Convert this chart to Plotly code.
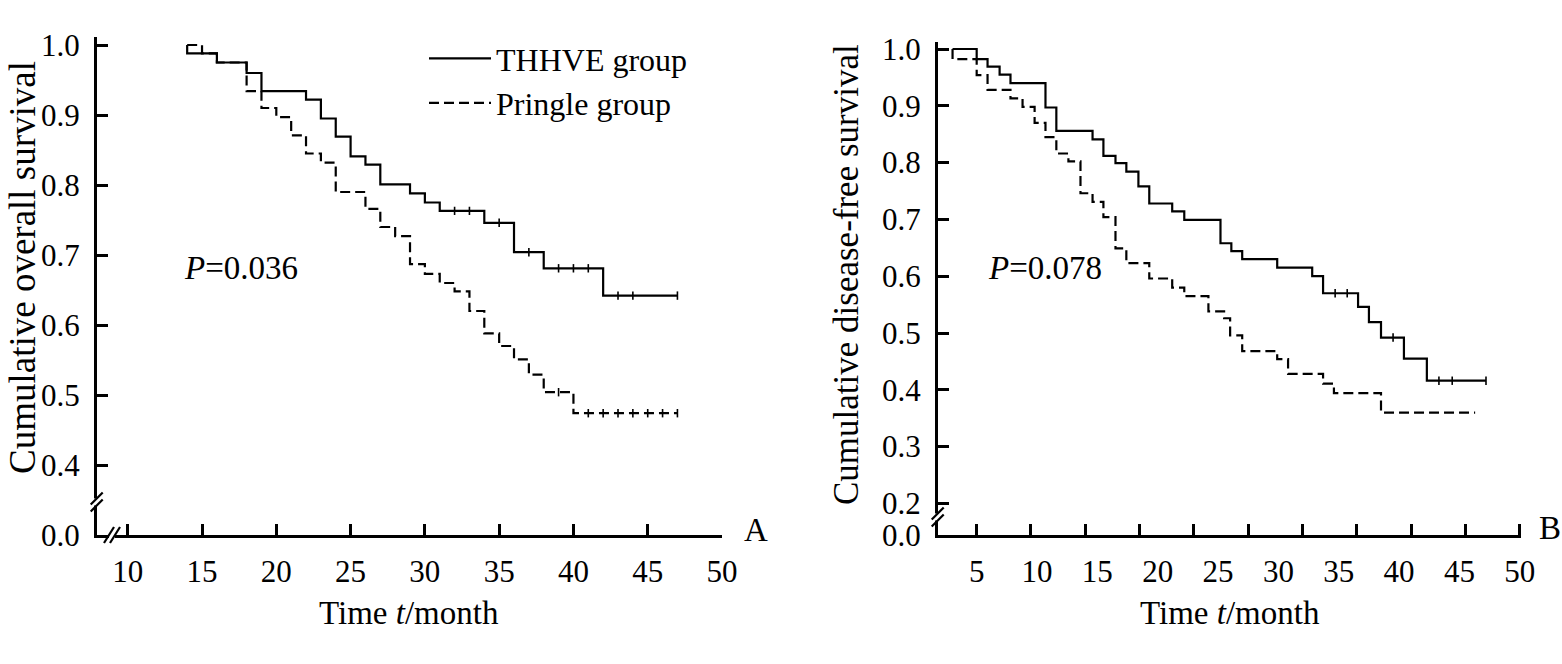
import plotly.graph_objects as go

W, H = 1562, 664
FONT = "Liberation Serif"

# ---------------- Panel A: overall survival ----------------
a_thhve_t = [14, 14, 16, 18, 19, 22, 23, 24, 25, 26, 27, 29, 30, 31, 34, 36, 38, 42, 47]
a_thhve_s = [1.0, 0.988, 0.975, 0.960, 0.934, 0.922, 0.895, 0.869, 0.841, 0.829, 0.801,
             0.788, 0.775, 0.763, 0.746, 0.704, 0.681, 0.642, 0.642]
a_thhve_cens_t = [32, 33, 35, 37, 39, 40, 41, 43, 44, 47]
a_thhve_cens_s = [0.763, 0.763, 0.746, 0.704, 0.681, 0.681, 0.681, 0.642, 0.642, 0.642]

a_pringle_t = [14, 15, 16, 18, 19, 20, 21, 22, 23, 24, 26, 27, 28, 29, 30, 31, 32, 33,
               34, 35, 36, 37, 38, 40, 47]
a_pringle_s = [1.0, 0.988, 0.975, 0.934, 0.910, 0.897, 0.871, 0.845, 0.832, 0.790, 0.766,
               0.740, 0.727, 0.687, 0.673, 0.660, 0.648, 0.620, 0.588, 0.570, 0.551, 0.529,
               0.504, 0.474, 0.474]
a_pringle_cens_t = [39, 41, 42, 43, 44, 45, 46, 47]
a_pringle_cens_s = [0.504, 0.474, 0.474, 0.474, 0.474, 0.474, 0.474, 0.474]

a_xticks = [10, 15, 20, 25, 30, 35, 40, 45, 50]
a_yticks = [0.3, 0.4, 0.5, 0.6, 0.7, 0.8, 0.9, 1.0]
a_ytext = ["0.0", "0.4", "0.5", "0.6", "0.7", "0.8", "0.9", "1.0"]

# ---------------- Panel B: disease-free survival ----------------
b_thhve_t = [3.0, 5.0, 5.9, 6.9, 7.8, 10.7, 11.6, 14.6, 15.5, 16.5, 17.4, 18.4, 19.3, 21.2,
             22.2, 25.2, 26.1, 27.0, 29.9, 32.8, 33.7, 36.6, 37.5, 38.5, 40.4, 42.3, 47.2]
b_thhve_s = [1.0, 0.982, 0.969, 0.955, 0.940, 0.897, 0.856, 0.841, 0.812, 0.799, 0.784,
             0.758, 0.728, 0.714, 0.699, 0.658, 0.644, 0.630, 0.615, 0.600, 0.570, 0.546,
             0.519, 0.492, 0.455, 0.416, 0.416]
b_thhve_cens_t = [34.7, 35.7, 39.5, 43.3, 44.4, 47.2]
b_thhve_cens_s = [0.570, 0.570, 0.492, 0.416, 0.416, 0.416]

b_pringle_t = [3.0, 3.0, 5.0, 5.9, 7.8, 8.8, 9.8, 10.7, 11.6, 12.6, 13.6, 14.6, 15.5, 16.5,
               17.4, 19.3, 21.2, 22.2, 24.2, 25.5, 26.0, 27.0, 29.9, 30.8, 33.7, 34.6, 38.5,
               46.3]
b_pringle_s = [1.0, 0.982, 0.954, 0.928, 0.913, 0.898, 0.870, 0.845, 0.816, 0.802, 0.746,
               0.731, 0.704, 0.649, 0.623, 0.596, 0.580, 0.565, 0.538, 0.526, 0.496, 0.468,
               0.454, 0.428, 0.411, 0.394, 0.360, 0.360]

b_xlabels = [5, 10, 15, 20, 25, 30, 35, 40, 45, 50]
b_xtickmarks = [5, 9.5, 14, 18.5, 23, 27.5, 32, 36.5, 41, 45.5, 50]
b_yticks = [0.1444, 0.2, 0.3, 0.4, 0.5, 0.6, 0.7, 0.8, 0.9, 1.0]
b_ytext = ["0.0", "0.2", "0.3", "0.4", "0.5", "0.6", "0.7", "0.8", "0.9", "1.0"]


def fx(px):
    return px / W


def fy(py):
    return 1 - py / H


fig = go.Figure()

solid = dict(color="black", width=2.2, shape="hv")
dashed = dict(color="black", width=2.2, shape="hv", dash="10px,5px")
cmark = dict(symbol="line-ns", size=6, line=dict(color="black", width=1.6))

fig.add_trace(go.Scatter(x=a_thhve_t, y=a_thhve_s, mode="lines", line=solid,
                         name="THHVE group", xaxis="x", yaxis="y"))
fig.add_trace(go.Scatter(x=a_pringle_t, y=a_pringle_s, mode="lines", line=dashed,
                         name="Pringle group", xaxis="x", yaxis="y"))
fig.add_trace(go.Scatter(x=a_thhve_cens_t, y=a_thhve_cens_s, mode="markers", marker=cmark,
                         showlegend=False, xaxis="x", yaxis="y"))
fig.add_trace(go.Scatter(x=a_pringle_cens_t, y=a_pringle_cens_s, mode="markers", marker=cmark,
                         showlegend=False, xaxis="x", yaxis="y"))

fig.add_trace(go.Scatter(x=b_thhve_t, y=b_thhve_s, mode="lines", line=solid,
                         showlegend=False, xaxis="x2", yaxis="y2"))
fig.add_trace(go.Scatter(x=b_pringle_t, y=b_pringle_s, mode="lines", line=dashed,
                         showlegend=False, xaxis="x2", yaxis="y2"))
fig.add_trace(go.Scatter(x=b_thhve_cens_t, y=b_thhve_cens_s, mode="markers", marker=cmark,
                         showlegend=False, xaxis="x2", yaxis="y2"))
# empty trace so that the tick-mark overlay axis is drawn
fig.add_trace(go.Scatter(x=[None], y=[None], mode="lines", showlegend=False,
                         hoverinfo="skip", xaxis="x3", yaxis="y2"))

tickfont = dict(family=FONT, size=31, color="black")
axcommon = dict(showgrid=False, zeroline=False, showline=True, linecolor="black",
                linewidth=2.6, ticks="inside", ticklen=11, tickwidth=2.6,
                tickcolor="black", tickfont=tickfont)

a_x0, a_x1 = 96.7, 722.0
a_ytop_v = 1.012
a_ybot, a_ytop = 535.0, 45.0 - (a_ytop_v - 1.0) * 700
b_x0, b_x1 = 937.7, 1521.0
b_ytop_v = 1.012
b_ybot, b_ytop = 535.0, 49.0 - (b_ytop_v - 1.0) * 568

fig.update_layout(
    width=W, height=H, margin=dict(l=0, r=0, t=0, b=0, autoexpand=False),
    paper_bgcolor="white", plot_bgcolor="white",
    font=dict(family=FONT, color="black"),
    xaxis=dict(axcommon, domain=[fx(a_x0), fx(a_x1)], range=[7.91, 50.0],
               tickvals=a_xticks, anchor="y", ticklabelstandoff=7),
    yaxis=dict(axcommon, domain=[fy(a_ybot), fy(a_ytop)], range=[0.3, a_ytop_v],
               tickvals=a_yticks, ticktext=a_ytext, anchor="x", ticklabelstandoff=8),
    xaxis2=dict(axcommon, domain=[fx(b_x0), fx(b_x1)], range=[1.77, 50.1],
                tickvals=b_xlabels, ticks="", anchor="y2", ticklabelstandoff=7),
    xaxis3=dict(showgrid=False, zeroline=False, showline=False, ticks="inside", ticklen=11,
                tickwidth=2.6, tickcolor="black", showticklabels=False,
                tickvals=b_xtickmarks, overlaying="x2", anchor="y2",
                domain=[fx(b_x0), fx(b_x1)], range=[1.77, 50.1]),
    yaxis2=dict(axcommon, domain=[fy(b_ybot), fy(b_ytop)], range=[0.1444, b_ytop_v],
                tickvals=b_yticks, ticktext=b_ytext, anchor="x2", ticklabelstandoff=8),
    legend=dict(x=fx(424), y=fy(31), xanchor="left", yanchor="top",
                font=dict(family=FONT, size=32, color="black"),
                bgcolor="rgba(0,0,0,0)", itemwidth=62, tracegroupgap=0),
)

ann = []
def text(x, y, s, size=32, angle=0, xanchor="center"):
    ann.append(dict(x=fx(x), y=fy(y), xref="paper", yref="paper", text=s,
                    showarrow=False, textangle=angle, xanchor=xanchor, yanchor="middle",
                    font=dict(family=FONT, size=size, color="black")))

text(241, 268, "<i>P</i>=0.036", size=33)
text(1045, 268, "<i>P</i>=0.078", size=33)
text(409, 613, "Time <i>t</i>/month", size=33)
text(1230, 613, "Time <i>t</i>/month", size=33)
text(22, 268, "Cumulative overall survival", size=37, angle=-90)
text(846, 275, "Cumulative disease-free survival", size=35, angle=-90)
text(756, 530, "A", size=33)
text(1537, 528, "B", size=33, xanchor="left")
fig.update_layout(annotations=ann)

shapes = []
def brk(cx, cy, gap_h, gap_w, vertical_axis=True):
    if vertical_axis:
        shapes.append(dict(type="rect", xref="paper", yref="paper",
                           x0=fx(cx - 3), x1=fx(cx + 3), y0=fy(cy + gap_h / 2), y1=fy(cy - gap_h / 2),
                           fillcolor="white", line=dict(width=0), layer="above"))
        for d in (-gap_h / 2, gap_h / 2):
            shapes.append(dict(type="line", xref="paper", yref="paper",
                               x0=fx(cx - 6), y0=fy(cy + d + 6), x1=fx(cx + 6), y1=fy(cy + d - 6),
                               line=dict(color="black", width=2.2), layer="above"))
    else:
        shapes.append(dict(type="rect", xref="paper", yref="paper",
                           x0=fx(cx - gap_w / 2), x1=fx(cx + gap_w / 2), y0=fy(cy + 3), y1=fy(cy - 3),
                           fillcolor="white", line=dict(width=0), layer="above"))
        for d in (-gap_w / 2, gap_w / 2):
            shapes.append(dict(type="line", xref="paper", yref="paper",
                               x0=fx(cx + d - 5), y0=fy(cy + 8), x1=fx(cx + d + 5), y1=fy(cy - 8),
                               line=dict(color="black", width=2.2), layer="above"))

brk(a_x0, 502, 7, 0, True)
brk(112, a_ybot, 0, 6, False)
brk(b_x0, 517, 7, 0, True)
fig.update_layout(shapes=shapes)

fig.write_html(
    "out.html",
    config={"displayModeBar": False},
    post_script=("document.documentElement.style.margin='0';"
                 "document.body.style.margin='0';document.body.style.padding='0';"
                 "document.body.style.overflow='hidden';"),
)
